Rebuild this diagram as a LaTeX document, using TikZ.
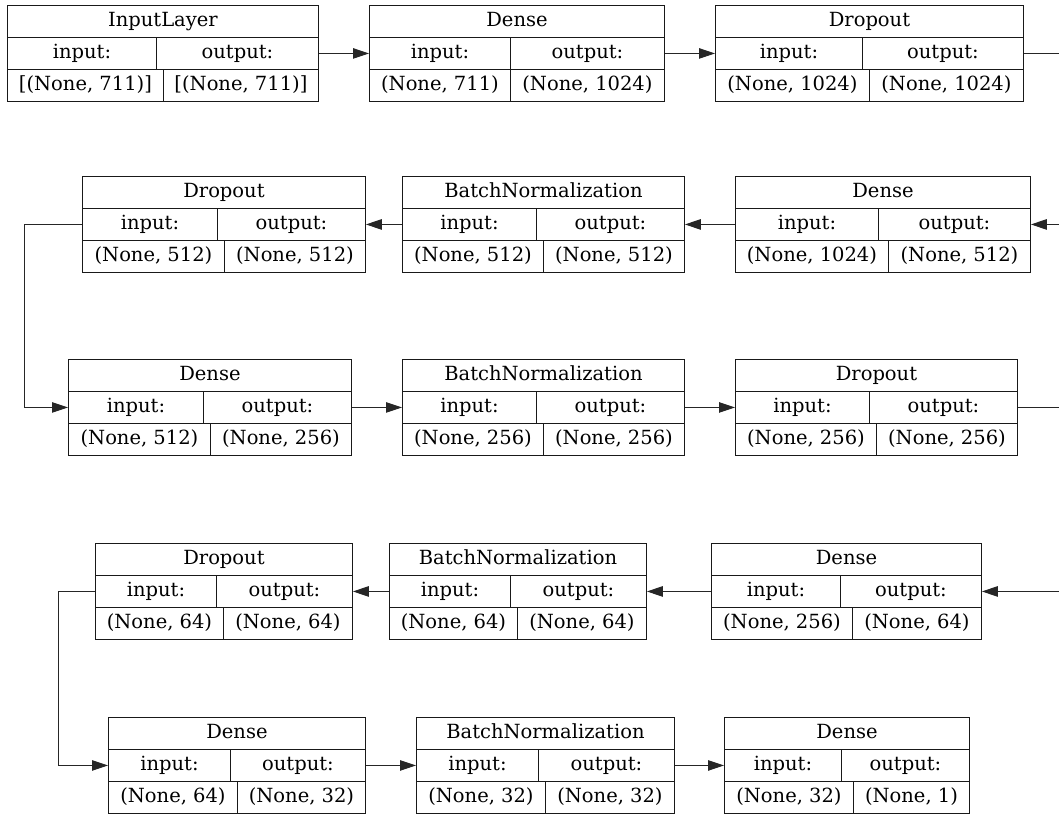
\documentclass[tikz,border=0pt]{standalone}
\usepackage{fontspec}
\setmainfont{DejaVu Serif}
\usetikzlibrary{arrows.meta,calc}
\tikzset{
  cell/.style={draw=black!90, line width=0.9pt, minimum height=32pt, inner sep=0pt, anchor=north west, text height=14pt, text depth=4pt, font=\fontsize{19.5}{22}\selectfont},
  arr/.style={draw=black!85, line width=0.9pt, -{Triangle[length=16pt,width=10.5pt]}},
  ln/.style={draw=black!85, line width=0.9pt}
}
\newcommand\lay[9]{%
  \node[cell, minimum width={(#3-#2)*1pt}] (#1t) at (#2,#6) {#7};
  \node[cell, minimum width={(#4-#2)*1pt}] (#1i) at (#2,{#6+32}) {input:};
  \node[cell, minimum width={(#3-#4)*1pt}] (#1o) at (#4,{#6+32}) {output:};
  \node[cell, minimum width={(#5-#2)*1pt}] (#1a) at (#2,{#6+64}) {#8};
  \node[cell, minimum width={(#3-#5)*1pt}] (#1b) at (#5,{#6+64}) {#9};
}
\begin{document}
\begin{tikzpicture}[x=1pt,y=-1pt]
\useasboundingbox (0,0) rectangle (1059,814);
% row 1
\lay{A}{7}{318}{156}{163}{5}{InputLayer}{[(None, 711)]}{[(None, 711)]}
\lay{B}{369}{664}{510}{510}{5}{Dense}{(None, 711)}{(None, 1024)}
\lay{C}{715}{1023}{862}{869}{5}{Dropout}{(None, 1024)}{(None, 1024)}
% row 2
\lay{F}{82}{365}{217}{224}{176}{Dropout}{(None, 512)}{(None, 512)}
\lay{E}{402}{684}{536}{543}{176}{BatchNormalization}{(None, 512)}{(None, 512)}
\lay{D}{735}{1030}{878}{888}{176}{Dense}{(None, 1024)}{(None, 512)}
% row 3
\lay{G}{68}{351}{203}{210}{359}{Dense}{(None, 512)}{(None, 256)}
\lay{H}{402}{684}{536}{543}{359}{BatchNormalization}{(None, 256)}{(None, 256)}
\lay{I}{735}{1017}{869}{876}{359}{Dropout}{(None, 256)}{(None, 256)}
% row 4
\lay{L}{95}{352}{216}{223}{543}{Dropout}{(None, 64)}{(None, 64)}
\lay{K}{389}{646}{510}{517}{543}{BatchNormalization}{(None, 64)}{(None, 64)}
\lay{J}{711}{981}{840}{852}{543}{Dense}{(None, 256)}{(None, 64)}
% row 5
\lay{M}{108}{365}{230}{237}{717}{Dense}{(None, 64)}{(None, 32)}
\lay{N}{416}{674}{538}{545}{717}{BatchNormalization}{(None, 32)}{(None, 32)}
\lay{O}{724}{969}{841}{853}{717}{Dense}{(None, 32)}{(None, 1)}
% free ends and bends
\coordinate (edgeR) at (1059,0);
\coordinate (bendA) at (24,0);
\coordinate (bendB) at (58,0);
% connectors
\draw[arr] (Ao.east) -- (Bi.west);
\draw[arr] (Bo.east) -- (Ci.west);
\draw[ln] (Co.east) -- (Co.east -| edgeR);
\draw[arr] (Do.east -| edgeR) -- (Do.east);
\draw[arr] (Di.west) -- (Eo.east);
\draw[arr] (Ei.west) -- (Fo.east);
\draw[arr] (Fi.west) -- (Fi.west -| bendA) -- (Gi.west -| bendA) -- (Gi.west);
\draw[arr] (Go.east) -- (Hi.west);
\draw[arr] (Ho.east) -- (Ii.west);
\draw[ln] (Io.east) -- (Io.east -| edgeR);
\draw[arr] (Jo.east -| edgeR) -- (Jo.east);
\draw[arr] (Ji.west) -- (Ko.east);
\draw[arr] (Ki.west) -- (Lo.east);
\draw[arr] (Li.west) -- (Li.west -| bendB) -- (Mi.west -| bendB) -- (Mi.west);
\draw[arr] (Mo.east) -- (Ni.west);
\draw[arr] (No.east) -- (Oi.west);
\end{tikzpicture}
\end{document}
